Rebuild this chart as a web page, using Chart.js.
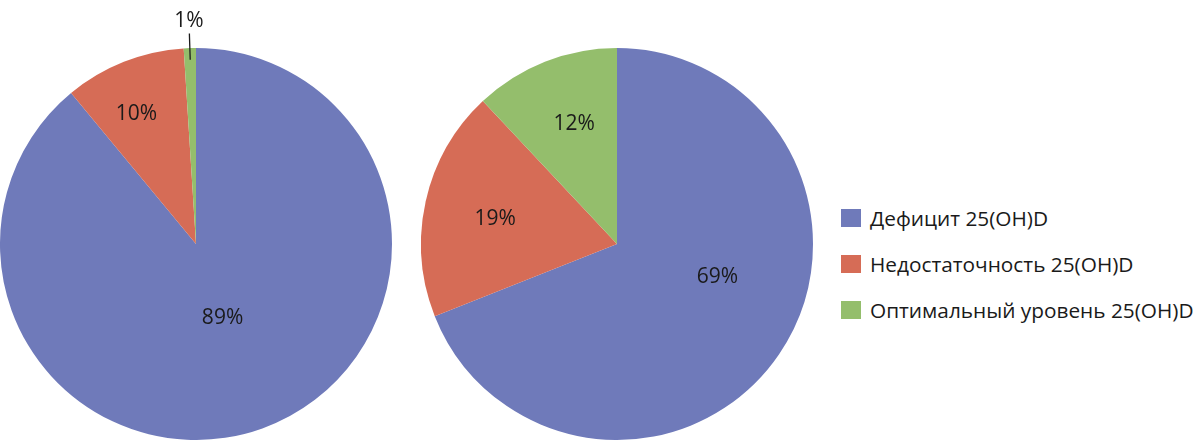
<!DOCTYPE html>
<html>
<head>
<meta charset="utf-8">
<script src="https://cdn.jsdelivr.net/npm/chart.js@4.4.1/dist/chart.umd.min.js"></script>
<style>
  body { margin: 0; background: #fff; }
  #wrap { position: relative; width: 1200px; height: 440px; overflow: hidden; font-family: "Open Sans", sans-serif; }
  .pie { position: absolute; top: 0; width: 392px; height: 440px; }
  #legend { position: absolute; left: 841px; top: 195px; }
  .item { display: flex; align-items: center; height: 46px; font-size: 20.8px; color: #1a1a1a; white-space: nowrap; }
  .box { width: 20px; height: 18px; margin-right: 9px; }
</style>
</head>
<body>
<div id="wrap">
  <div class="pie" style="left:0"><canvas id="pie1"></canvas></div>
  <div class="pie" style="left:421px"><canvas id="pie2"></canvas></div>
  <div id="legend"></div>
</div>
<script>
const categories = ['Дефицит 25(OH)D', 'Недостаточность 25(OH)D', 'Оптимальный уровень 25(OH)D'];
const leftValues = [89, 10, 1];
const rightValues = [69, 19, 12];
const colors = ['#6f7aba', '#d66c56', '#94be6c'];

// where each percent label sits: radius fraction, angle shift (deg), outside with leader line
const leftLabelPos = [{ r: 0.4, da: 0 }, { r: 0.73, da: -3 }, { r: 1.14, da: 0, leader: true }];
const rightLabelPos = [{ r: 0.54, da: -16 }, { r: 0.635, da: -1 }, { r: 0.65, da: 2 }];

const pctLabels = {
    id: 'pctLabels',
    afterDraw(chart, args, opts) {
        const ctx = chart.ctx;
        const meta = chart.getDatasetMeta(0);
        const data = chart.data.datasets[0].data;
        ctx.save();
        ctx.font = '21px "Open Sans", sans-serif';
        ctx.fillStyle = '#1a1a1a';
        ctx.textAlign = 'center';
        ctx.textBaseline = 'middle';
        meta.data.forEach((arc, i) => {
            const p = opts.pos[i];
            const mid = (arc.startAngle + arc.endAngle) / 2 + p.da * Math.PI / 180;
            const R = arc.outerRadius;
            const x = arc.x + Math.cos(mid) * R * p.r;
            const y = arc.y + Math.sin(mid) * R * p.r;
            ctx.fillText(data[i] + '%', x, y);
            if (p.leader) {
                ctx.strokeStyle = '#1a1a1a';
                ctx.lineWidth = 1.3;
                ctx.beginPath();
                ctx.moveTo(arc.x + Math.cos(mid) * R * 1.075, arc.y + Math.sin(mid) * R * 1.075);
                ctx.lineTo(arc.x + Math.cos(mid) * R * 0.94, arc.y + Math.sin(mid) * R * 0.94);
                ctx.stroke();
            }
        });
        ctx.restore();
    }
};

function makePie(id, values, pos) {
    return new Chart(document.getElementById(id), {
        type: 'pie',
        data: {
            labels: categories,
            datasets: [{ data: values, backgroundColor: colors, borderWidth: 0 }]
        },
        options: {
            responsive: true,
            maintainAspectRatio: false,
            animation: false,
            layout: { padding: { top: 48, bottom: 0 } },
            plugins: {
                legend: { display: false },
                tooltip: { enabled: false },
                pctLabels: { pos: pos }
            }
        },
        plugins: [pctLabels]
    });
}

makePie('pie1', leftValues, leftLabelPos);
makePie('pie2', rightValues, rightLabelPos);

const legend = document.getElementById('legend');
categories.forEach((name, i) => {
    const row = document.createElement('div');
    row.className = 'item';
    row.innerHTML = `<span class="box" style="background:${colors[i]}"></span>${name}`;
    legend.appendChild(row);
});
</script>
</body>
</html>
